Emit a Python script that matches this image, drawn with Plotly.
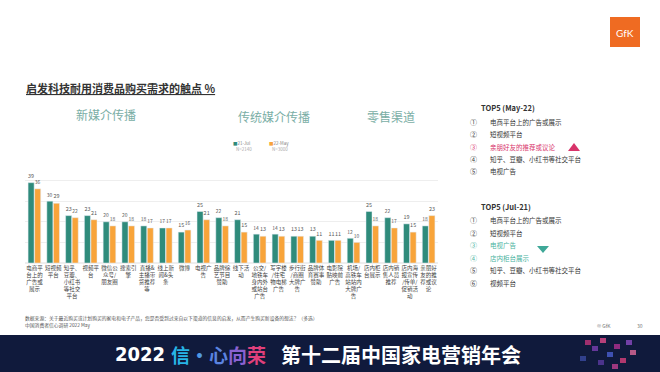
import plotly.graph_objects as go

W, H = 660, 372

categories = [
    "电商平<br>台上的<br>广告或<br>展示", "短视频<br>平台", "知乎、<br>豆瓣、<br>小红书<br>等社交<br>平台",
    "视频平<br>台", "微信公<br>众号/<br>朋友圈", "搜索引<br>擎", "直播&<br>主播带<br>货推荐<br>等",
    "线上新<br>闻&头<br>条", "微博", "电视广<br>告", "品牌综<br>艺节目<br>赞助", "线下活<br>动",
    "公交/<br>地铁车<br>身内外<br>或站台<br>广告", "写字楼<br>/住宅<br>物电梯<br>广告",
    "步行街<br>/商圈<br>大牌广<br>告", "品牌体<br>育赛事<br>赞助", "电影院<br>贴映前<br>广告",
    "机场/<br>高铁车<br>站站内<br>大牌广<br>告", "店内柜<br>台展示", "店内销<br>售人员<br>推荐",
    "店内海<br>报宣传<br>/传单/<br>促销活<br>动", "亲朋好<br>友的推<br>荐或议<br>论",
]
jul21 = [39, 30, 23, 23, 20, 20, 18, 17, 15, 25, 22, 21, 14, 14, 13, 13, 11, 12, 25, 22, 19, 18]
may22 = [36, 29, 22, 21, 18, 18, 17, 17, 16, 21, 18, 15, 13, 13, 13, 11, 11, 10, 18, 17, 15, 23]
series_names = ["21-Jul", "22-May"]
series_n = ["N=2140", "N=3000"]
section_titles = ["新媒介传播", "传统媒介传播", "零售渠道"]
top5_may = ["电商平台上的广告或展示", "短视频平台", "亲朋好友的推荐或议论", "知乎、豆瓣、小红书等社交平台", "电视广告"]
top5_jul = ["电商平台上的广告或展示", "短视频平台", "电视广告", "店内柜台展示", "知乎、豆瓣、小红书等社交平台", "视频平台"]
circled = ["①", "②", "③", "④", "⑤", "⑥"]

TEAL = "#2f8b7b"
ORANGE = "#f8a43a"
FONT = "Noto Sans CJK SC"


def px(x):
    return x / W


def py(y):
    return 1 - y / H


fig = go.Figure()
fig.add_trace(go.Bar(x=categories, y=jul21, name=series_names[0], marker_color=TEAL,
                     text=jul21, textposition="outside", cliponaxis=False,
                     textfont=dict(size=6, color="#595959", family=FONT)))
fig.add_trace(go.Bar(x=categories, y=may22, name=series_names[1], marker_color=ORANGE,
                     text=may22, textposition="outside", cliponaxis=False,
                     textfont=dict(size=6, color="#595959", family=FONT)))

fig.update_layout(
    width=W, height=H, margin=dict(l=0, r=0, t=0, b=0),
    paper_bgcolor="white", plot_bgcolor="white",
    barmode="group", bargap=0.3, bargroupgap=0.08,
    showlegend=False, font=dict(family=FONT),
    xaxis=dict(domain=[px(25), px(438)], tickangle=0, ticklen=0, showline=False,
               tickfont=dict(size=5.5, color="#404040", family=FONT), automargin=False),
    yaxis=dict(domain=[py(263), py(160)], range=[0, 50], dtick=10, showticklabels=False,
               gridcolor="#eeeeee", gridwidth=1, zeroline=True, zerolinecolor="#eeeeee",
               automargin=False),
)

ann = []
# title
ann.append(dict(x=px(24), y=py(88), text="启发科技耐用消费品购买需求的触点 %", xanchor="left", yanchor="middle",
                font=dict(size=11, color="#333333", family=FONT, weight="bold", lineposition="under")))
# section titles
for t, (cx, cy) in zip(section_titles, [(106, 115), (274, 117), (391, 117)]):
    ann.append(dict(x=px(cx), y=py(cy), text=t, xanchor="center", yanchor="middle",
                    font=dict(size=12, color="#7aaea5", family=FONT)))
# mini legend
for i, (nm, n, col) in enumerate(zip(series_names, series_n, [TEAL, ORANGE])):
    x0 = 231 + i * 36
    ann.append(dict(x=px(x0), y=py(143), text=f"<span style='color:{col}'>■</span>{nm}", xanchor="left",
                    yanchor="middle", font=dict(size=4.5, color="#888888", family=FONT)))
    ann.append(dict(x=px(x0 + 3), y=py(149), text=n, xanchor="left", yanchor="middle",
                    font=dict(size=4.5, color="#aaaaaa", family=FONT)))

# right panel
ann.append(dict(x=px(479), y=py(108), text="TOP5 (May-22)", xanchor="left", yanchor="middle",
                font=dict(size=7.5, color="#333333", family=FONT, weight="bold")))
for i, t in enumerate(top5_may):
    yy = 122 + i * 12.3
    col = "#d8336a" if i == 2 else "#333333"
    ann.append(dict(x=px(473), y=py(yy), text=circled[i], xanchor="center", yanchor="middle",
                    font=dict(size=7, color=col, family=FONT)))
    ann.append(dict(x=px(488), y=py(yy), text=t, xanchor="left", yanchor="middle",
                    font=dict(size=6.5, color=col, family=FONT)))
ann.append(dict(x=px(479), y=py(207), text="TOP5 (Jul-21)", xanchor="left", yanchor="middle",
                font=dict(size=7.5, color="#333333", family=FONT, weight="bold")))
for i, t in enumerate(top5_jul):
    yy = 220 + i * 12.5
    col = "#49b3a0" if i in (2, 3) else "#333333"
    ann.append(dict(x=px(473), y=py(yy), text=circled[i], xanchor="center", yanchor="middle",
                    font=dict(size=7, color=col, family=FONT)))
    ann.append(dict(x=px(488), y=py(yy), text=t, xanchor="left", yanchor="middle",
                    font=dict(size=6.5, color=col, family=FONT)))

# footer
ann.append(dict(x=px(23), y=py(318), xanchor="left", yanchor="middle",
                text="数据来源：关于最近购买或计划购买的家电和电子产品，您是否受到过来自以下渠道的信息的启发，从而产生购买新设备的想法？（多选）",
                font=dict(size=4.8, color="#555555", family=FONT)))
ann.append(dict(x=px(23), y=py(325), xanchor="left", yanchor="middle", text="中国消费者信心调研 2022 May",
                font=dict(size=4.8, color="#555555", family=FONT)))
ann.append(dict(x=px(595), y=py(325), xanchor="left", yanchor="middle", text="© GfK",
                font=dict(size=5, color="#777777", family=FONT)))
ann.append(dict(x=px(640), y=py(325), xanchor="center", yanchor="middle", text="30",
                font=dict(size=5, color="#777777", family=FONT)))

# banner text
ann.append(dict(x=px(167), y=py(354), xanchor="right", yanchor="middle", text="2022",
                font=dict(size=20, color="white", family="Liberation Sans Narrow, DejaVu Sans Condensed",
                          weight="bold")))
grad = [("信", "#27b5e8"), ("·", "#4f98e2"), ("心", "#5b84e0"), ("向", "#8a62d2"), ("荣", "#e0407c")]
txt = "".join(f"<span style='color:{c}'>{ch}</span>" for ch, c in grad)
ann.append(dict(x=px(169), y=py(354), xanchor="left", yanchor="middle", text=txt,
                font=dict(size=19, family=FONT, weight="bold")))
ann.append(dict(x=px(279), y=py(354), xanchor="left", yanchor="middle", text="第十二届中国家电营销年会",
                font=dict(size=20, color="white", family=FONT, weight="bold")))
# GfK logo text
ann.append(dict(x=px(625), y=py(33), xanchor="center", yanchor="middle", text="GfK",
                font=dict(size=10, color="white", family="Lato")))

shapes = []
# banner
shapes.append(dict(type="rect", xref="paper", yref="paper", x0=0, x1=1, y0=0, y1=py(335),
                   fillcolor="#101a3c", line=dict(width=0), layer="below"))
# banner mosaic decoration
mosaic = [(585, 340, "#c2357a"), (592, 346, "#7a3fb0"), (600, 338, "#e04a8a"), (607, 352, "#4a5fd0"),
          (614, 344, "#b03090"), (620, 358, "#d8407a"), (598, 360, "#5a3aa0"), (626, 340, "#8a4ac0"),
          (580, 356, "#3a4aa0"), (612, 364, "#c04090"), (630, 350, "#e06a9a")]
for mx, my, mc in mosaic:
    shapes.append(dict(type="rect", xref="paper", yref="paper", x0=px(mx), x1=px(mx + 6),
                       y0=py(my + 5), y1=py(my), fillcolor=mc, line=dict(width=0), opacity=0.8))
# GfK logo square
shapes.append(dict(type="rect", xref="paper", yref="paper", x0=px(610), x1=px(640), y0=py(47), y1=py(17),
                   fillcolor="#ef6b22", line=dict(width=0), layer="below"))


def tri(x0, x1, ytop, ybot, up, color):
    if up:
        path = f"M {px(x0)} {py(ybot)} L {px(x1)} {py(ybot)} L {px((x0 + x1) / 2)} {py(ytop)} Z"
    else:
        path = f"M {px(x0)} {py(ytop)} L {px(x1)} {py(ytop)} L {px((x0 + x1) / 2)} {py(ybot)} Z"
    return dict(type="path", xref="paper", yref="paper", path=path, fillcolor=color, line=dict(width=0))


shapes.append(tri(568, 580, 143, 151, True, "#d8336a"))
shapes.append(tri(537, 549, 246, 253, False, "#3fa898"))

fig.update_layout(annotations=[dict(a, xref="paper", yref="paper", showarrow=False) for a in ann], shapes=shapes)
fig.write_html("out.html", config={"displayModeBar": False},
               post_script="document.body.style.margin='0';document.body.style.overflow='hidden';")
